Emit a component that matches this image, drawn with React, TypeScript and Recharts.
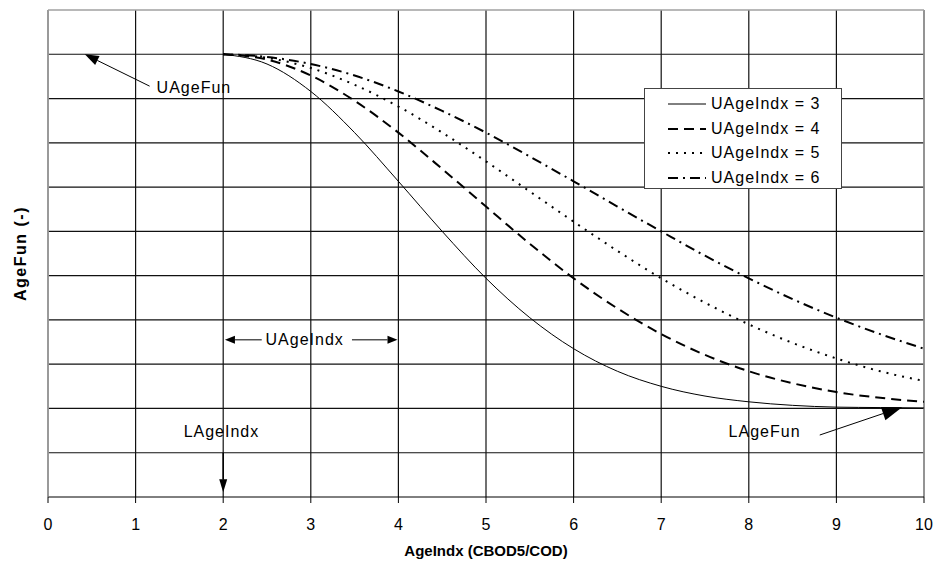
import React from "react";
import {
  LineChart,
  Line,
  XAxis,
  YAxis,
  CartesianGrid,
  Legend,
  Label,
  ReferenceLine,
  ReferenceDot,
} from "recharts";

// AgeIndx values where the curves were read (curves start at LAgeIndx = 2)
const ageIndx = [2, 2.5, 3, 3.5, 4, 4.5, 5, 5.5, 6, 6.5, 7, 7.5, 8, 8.5, 9, 9.5, 10];

// AgeFun
const ageFun3 = [1.0, 0.978, 0.916, 0.823, 0.713, 0.6, 0.494, 0.405, 0.335, 0.284, 0.25, 0.228, 0.215, 0.207, 0.203, 0.202, 0.201];
const ageFun4 = [1.0, 0.988, 0.952, 0.895, 0.823, 0.741, 0.656, 0.572, 0.494, 0.426, 0.368, 0.321, 0.284, 0.257, 0.237, 0.224, 0.215];
const ageFun5 = [1.0, 0.992, 0.969, 0.931, 0.882, 0.823, 0.758, 0.69, 0.622, 0.556, 0.494, 0.439, 0.39, 0.348, 0.313, 0.284, 0.262];
const ageFun6 = [1.0, 0.994, 0.978, 0.952, 0.916, 0.872, 0.823, 0.769, 0.713, 0.656, 0.6, 0.545, 0.494, 0.447, 0.405, 0.368, 0.335];

const seriesNames = ["UAgeIndx = 3", "UAgeIndx = 4", "UAgeIndx = 5", "UAgeIndx = 6"];

const xTicks = [0, 1, 2, 3, 4, 5, 6, 7, 8, 9, 10];
const yTicks = [0.1, 0.2, 0.3, 0.4, 0.5, 0.6, 0.7, 0.8, 0.9, 1.0];

const data = ageIndx.map((x, i) => ({
  x,
  u3: ageFun3[i],
  u4: ageFun4[i],
  u5: ageFun5[i],
  u6: ageFun6[i],
}));

const lineStyles: Record<string, { dash?: string; width: number }> = {
  u3: { width: 1 },
  u4: { dash: "10 6", width: 2 },
  u5: { dash: "2 6", width: 2 },
  u6: { dash: "10 5 2 5", width: 2 },
};
const keys = ["u3", "u4", "u5", "u6"];

const FONT = "'Liberation Sans', Arial, sans-serif";
const GRAY = "#a0a0a0";

function arrow(head: number, half: number, width = 1) {
  return (p: any) => {
    const x1 = Number(p.x1), y1 = Number(p.y1), x2 = Number(p.x2), y2 = Number(p.y2);
    const dx = x2 - x1, dy = y2 - y1;
    const len = Math.hypot(dx, dy) || 1;
    const ux = dx / len, uy = dy / len;
    const bx = x2 - ux * head, by = y2 - uy * head;
    const pts = `${x2},${y2} ${bx - uy * half},${by + ux * half} ${bx + uy * half},${by - ux * half}`;
    return (
      <g>
        <line x1={x1} y1={y1} x2={bx} y2={by} stroke="#000" strokeWidth={width} />
        <polygon points={pts} fill="#000" />
      </g>
    );
  };
}

function note(text: string, anchor: "start" | "middle") {
  return (p: any) => (
    <text
      x={p.cx}
      y={p.cy}
      textAnchor={anchor}
      dominantBaseline="central"
      fontFamily={FONT}
      fontSize={16}
      letterSpacing={1}
      fill="#000"
    >
      {text}
    </text>
  );
}

const LegendBox = (props: any) => (
  <div
    style={{
      width: 198,
      height: 101,
      boxSizing: "border-box",
      border: "1px solid #444",
      background: "#fff",
      paddingTop: 3,
      fontFamily: FONT,
      fontSize: 16,
      letterSpacing: 1,
      color: "#000",
    }}
  >
    {(props.payload || []).map((entry: any) => {
      const st = lineStyles[entry.dataKey] || { width: 1 };
      return (
        <div key={entry.dataKey} style={{ display: "flex", alignItems: "center", height: 24.5, paddingLeft: 22 }}>
          <svg width={40} height={10} style={{ marginRight: 4 }}>
            <line x1={1} y1={5} x2={39} y2={5} stroke="#000" strokeWidth={st.width} strokeDasharray={st.dash} />
          </svg>
          <span>{entry.value}</span>
        </div>
      );
    })}
  </div>
);

export default function App() {
  return (
    <div style={{ position: "absolute", left: 0, top: 0, background: "#fff", fontFamily: FONT }}>
      <LineChart width={937} height={573} data={data} margin={{ top: 10, right: 13, left: 0, bottom: 0 }}>
        <CartesianGrid stroke="#111" strokeWidth={1.2} horizontal={false} />
        <XAxis
          dataKey="x"
          type="number"
          domain={[0, 10]}
          ticks={xTicks}
          interval={0}
          height={76}
          stroke="#000"
          tickSize={6}
          tickMargin={16}
          tick={{ fontSize: 16, fill: "#000", fontFamily: FONT }}
        >
          <Label
            content={({ viewBox }: any) => (
              <text
                x={viewBox.x + viewBox.width / 2}
                y={viewBox.y + 59}
                textAnchor="middle"
                fontFamily={FONT}
                fontWeight="bold"
                fontSize={15}
                fill="#000"
              >
                AgeIndx (CBOD5/COD)
              </text>
            )}
          />
        </XAxis>
        <YAxis
          type="number"
          domain={[0, 1.1]}
          width={48}
          tick={false}
          tickLine={false}
          axisLine={{ stroke: GRAY }}
        >
          <Label
            content={({ viewBox }: any) => {
              const cx = viewBox.x + 20;
              const cy = viewBox.y + viewBox.height / 2;
              return (
                <text
                  x={cx}
                  y={cy}
                  transform={`rotate(-90, ${cx}, ${cy})`}
                  textAnchor="middle"
                  dominantBaseline="central"
                  fontFamily={FONT}
                  fontWeight="bold"
                  fontSize={16}
                  letterSpacing={1.5}
                  fill="#000"
                >
                  AgeFun (-)
                </text>
              );
            }}
          />
        </YAxis>

        {/* horizontal grid at every 0.1 of AgeFun */}
        {yTicks.map((t) => (
          <ReferenceLine key={t} y={t} stroke="#111" strokeWidth={1.2} />
        ))}
        <ReferenceLine y={1.1} stroke={GRAY} strokeWidth={1.5} />
        <ReferenceLine x={10} stroke={GRAY} strokeWidth={1.5} />
        <ReferenceLine x={0} stroke={GRAY} strokeWidth={1.5} />

        {keys.map((k, i) => (
          <Line
            key={k}
            type="monotone"
            dataKey={k}
            name={seriesNames[i]}
            stroke="#000"
            strokeWidth={lineStyles[k].width}
            strokeDasharray={lineStyles[k].dash}
            dot={false}
            activeDot={false}
            isAnimationActive={false}
          />
        ))}

        {/* annotations */}
        <ReferenceLine segment={[{ x: 1.16, y: 0.928 }, { x: 0.42, y: 1.0 }]} shape={arrow(14, 5)} />
        <ReferenceDot x={1.24} y={0.924} shape={note("UAgeFun", "start")} />

        <ReferenceLine segment={[{ x: 2.44, y: 0.355 }, { x: 2.02, y: 0.355 }]} shape={arrow(10, 4)} />
        <ReferenceLine segment={[{ x: 3.47, y: 0.355 }, { x: 3.99, y: 0.355 }]} shape={arrow(10, 4)} />
        <ReferenceDot x={2.93} y={0.355} shape={note("UAgeIndx", "middle")} />

        <ReferenceDot x={1.98} y={0.147} shape={note("LAgeIndx", "middle")} />
        <ReferenceLine segment={[{ x: 2, y: 0.1 }, { x: 2, y: 0.011 }]} shape={arrow(13, 4, 1.5)} />

        <ReferenceDot x={8.18} y={0.147} shape={note("LAgeFun", "middle")} />
        <ReferenceLine segment={[{ x: 8.81, y: 0.14 }, { x: 9.75, y: 0.203 }]} shape={arrow(20, 7)} />

        <Legend
          layout="horizontal"
          verticalAlign="middle"
          align="center"
          content={<LegendBox />}
          wrapperStyle={{ left: 644, top: 88, width: 198, height: 101 }}
        />
      </LineChart>
    </div>
  );
}
